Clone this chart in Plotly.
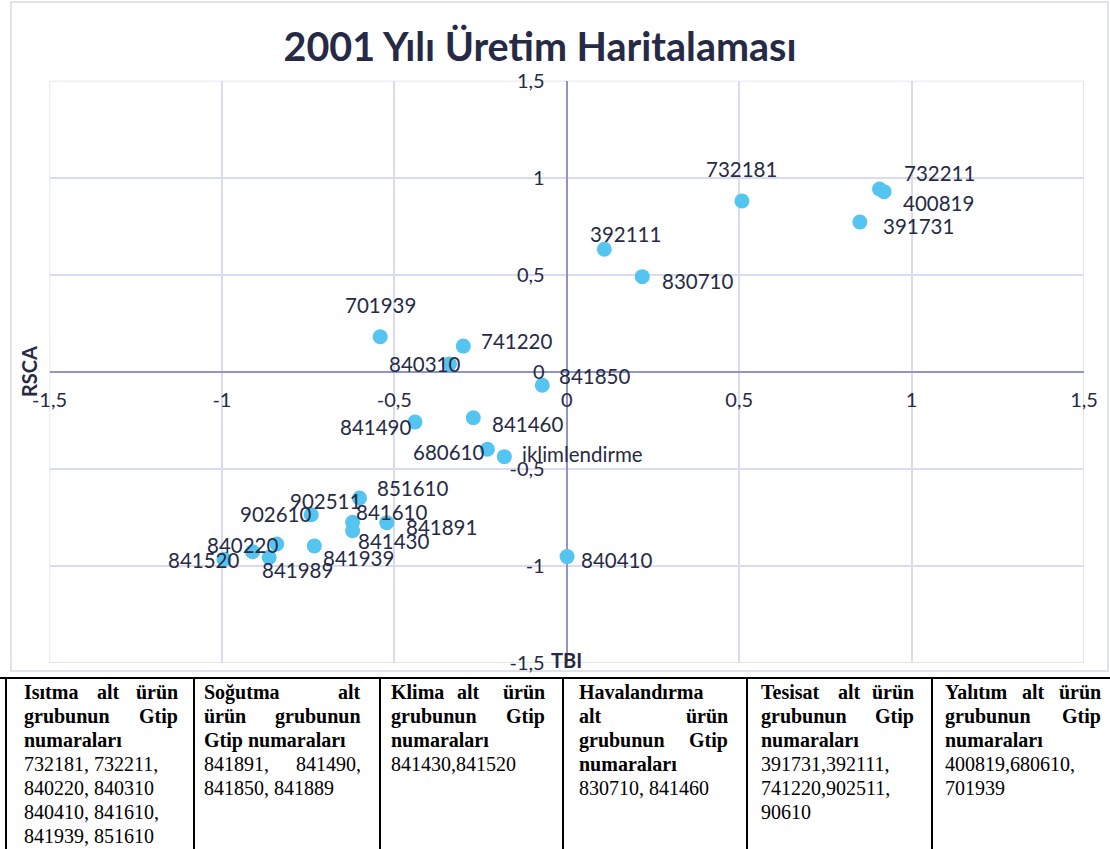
import plotly.graph_objects as go

# ---------------- data ----------------
codes = ["732181", "732211", "400819", "391731", "392111", "830710", "701939",
         "741220", "840310", "841850", "841490", "841460", "680610", "iklimlendirme",
         "851610", "902511", "902610", "841610", "841430", "841891", "841939",
         "840220", "841520", "841989", "840410"]
tbi = [0.508, 0.907, 0.920, 0.850, 0.109, 0.219, -0.541,
       -0.300, -0.340, -0.071, -0.440, -0.271, -0.230, -0.181,
       -0.601, -0.911, -0.741, -0.621, -0.621, -0.522, -0.732,
       -0.841, -0.994, -0.863, 0.001]
rsca = [0.880, 0.942, 0.928, 0.772, 0.631, 0.490, 0.180,
        0.132, 0.040, -0.070, -0.259, -0.237, -0.400, -0.438,
        -0.651, -0.928, -0.737, -0.776, -0.820, -0.778, -0.898,
        -0.888, -0.967, -0.957, -0.953]
tick_values = [-1.5, -1, -0.5, 0, 0.5, 1, 1.5]
tick_labels = [("%g" % v).replace(".", ",") for v in tick_values]

title_text = "2001 Yılı Üretim Haritalaması"
x_title = "TBI"
y_title = "RSCA"

# table contents: (text, bold, justified)
table_cells = [
    [("Isıtma alt ürün", True, True), ("grubunun Gtip", True, True), ("numaraları", True, False),
     ("732181, 732211,", False, False), ("840220, 840310", False, False),
     ("840410, 841610,", False, False), ("841939, 851610", False, False)],
    [("Soğutma alt", True, True), ("ürün grubunun", True, True), ("Gtip numaraları", True, False),
     ("841891, 841490,", False, True), ("841850, 841889", False, False)],
    [("Klima alt ürün", True, True), ("grubunun Gtip", True, True), ("numaraları", True, False),
     ("841430,841520", False, False)],
    [("Havalandırma", True, False), ("alt ürün", True, True), ("grubunun Gtip", True, True),
     ("numaraları", True, False), ("830710, 841460", False, False)],
    [("Tesisat alt ürün", True, True), ("grubunun Gtip", True, True), ("numaraları", True, False),
     ("391731,392111,", False, False), ("741220,902511,", False, False), ("90610", False, False)],
    [("Yalıtım alt ürün", True, True), ("grubunun Gtip", True, True), ("numaraları", True, False),
     ("400819,680610,", False, False), ("701939", False, False)],
]

# ---------------- layout / style ----------------
W, H = 1110, 849
def px(x): return x / W
def py(y): return 1 - y / H

TEXT = "#262a44"
GRID = "#d9dbee"
AXIS = "#8f95c9"
MARK = "#55c4f0"
FONT = "Lato"

# label placement: (xanchor, dx, dy) in pixels, dy positive = downwards
label_pos = {
    "732181": ("center", 0, -32), "732211": ("left", 22, -16), "400819": ("left", 17, 11),
    "391731": ("left", 21, 4), "392111": ("center", 21, -15), "830710": ("left", 18, 4),
    "701939": ("center", 0, -32), "741220": ("left", 16, -5), "840310": ("right", 12, 0),
    "841850": ("left", 15, -9), "841490": ("right", -2, 5), "841460": ("left", 17, 6),
    "680610": ("right", -1, 3), "iklimlendirme": ("left", 16, -3), "851610": ("left", 15, -10),
    "902511": ("right", 110, -51), "902610": ("right", 2, -1), "841610": ("left", 1, -10),
    "841430": ("left", 3, 10), "841891": ("left", 17, 4), "841939": ("left", 7, 12),
    "840220": ("right", 3, 1), "841520": ("right", 17, 1), "841989": ("center", 28, 13),
    "840410": ("left", 12, 3),
}

fig = go.Figure()
fig.add_trace(go.Scatter(
    x=tbi, y=rsca, mode="markers",
    marker=dict(size=15, color=MARK, line=dict(width=0)),
    hoverinfo="skip", showlegend=False,
))

annotations = []
for c, xv, yv in zip(codes, tbi, rsca):
    anc, dx, dy = label_pos[c]
    annotations.append(dict(
        x=xv, y=yv, xref="x", yref="y", text=c, showarrow=False,
        xanchor=anc, yanchor="middle", xshift=dx, yshift=-dy,
        font=dict(family=FONT, size=20.5, color=TEXT),
    ))

# axis titles
annotations.append(dict(x=px(29), y=py(372), xref="paper", yref="paper", text="<b>%s</b>" % y_title,
                        textangle=-90, showarrow=False, xanchor="center", yanchor="middle",
                        font=dict(family=FONT, size=20, color=TEXT)))
annotations.append(dict(x=px(566), y=py(660), xref="paper", yref="paper", text="<b>%s</b>" % x_title,
                        showarrow=False, xanchor="center", yanchor="middle",
                        font=dict(family=FONT, size=20, color=TEXT)))

# table text
col_left = [22, 202, 389, 577, 759, 943]
col_right = [180, 363, 547, 730, 916, 1103]
mid_pos = {(0, 0): 108, (2, 0): 468, (4, 0): 849.5, (5, 0): 1033}
row_y0, row_dy = 692, 24
for ci, lines in enumerate(table_cells):
    for ri, (txt, bold, just) in enumerate(lines):
        yy = py(row_y0 + ri * row_dy)
        f = dict(family="Liberation Serif", size=20, color="#000000")
        fmt = (lambda s: "<b>%s</b>" % s) if bold else (lambda s: s)
        words = txt.split()
        if just and len(words) >= 2:
            annotations.append(dict(x=px(col_left[ci]), y=yy, xref="paper", yref="paper",
                                    text=fmt(words[0]), showarrow=False, xanchor="left",
                                    yanchor="middle", font=f))
            annotations.append(dict(x=px(col_right[ci]), y=yy, xref="paper", yref="paper",
                                    text=fmt(words[-1]), showarrow=False, xanchor="right",
                                    yanchor="middle", font=f))
            if len(words) == 3:
                annotations.append(dict(x=px(mid_pos[(ci, ri)]), y=yy, xref="paper", yref="paper",
                                        text=fmt(words[1]), showarrow=False, xanchor="center",
                                        yanchor="middle", font=f))
        else:
            annotations.append(dict(x=px(col_left[ci]), y=yy, xref="paper", yref="paper",
                                    text=fmt(txt), showarrow=False, xanchor="left",
                                    yanchor="middle", font=f))

shapes = []
# chart outer border
shapes.append(dict(type="rect", xref="paper", yref="paper", x0=px(11), x1=px(1108),
                   y0=py(671), y1=py(2), line=dict(color="#d9d9e6", width=1.5), layer="below"))
# plot area frame (grid at range limits)
shapes.append(dict(type="rect", xref="x", yref="y", x0=-1.5, x1=1.5, y0=-1.5, y1=1.5,
                   line=dict(color=GRID, width=1.5), layer="below"))
# table lines
shapes.append(dict(type="line", xref="paper", yref="paper", x0=0, x1=1, y0=py(678), y1=py(678),
                   line=dict(color="#000000", width=2)))
for xb in [6, 194, 380, 563, 747, 932]:
    shapes.append(dict(type="line", xref="paper", yref="paper", x0=px(xb), x1=px(xb),
                       y0=py(678), y1=0, line=dict(color="#000000", width=2)))

axis_common = dict(
    range=[-1.5, 1.5], tickvals=tick_values, ticktext=tick_labels,
    showgrid=True, gridcolor=GRID, gridwidth=1.5,
    zeroline=True, zerolinecolor=AXIS, zerolinewidth=2,
    showline=False, ticks="", anchor="free", automargin=False,
    tickfont=dict(family=FONT, size=20, color=TEXT),
    fixedrange=True,
)

fig.update_layout(
    width=W, height=H,
    margin=dict(l=0, r=0, t=0, b=0, pad=0, autoexpand=False),
    paper_bgcolor="white", plot_bgcolor="white",
    title=dict(text="<b>%s</b>" % title_text, x=px(540), xanchor="center",
               y=py(47), yanchor="middle", xref="paper", yref="paper", automargin=False,
               font=dict(family=FONT, size=39.5, color=TEXT)),
    xaxis=dict(axis_common, domain=[px(49.5), px(1084)], position=py(371.7),
               ticklabelstandoff=14),
    yaxis=dict(axis_common, domain=[py(662.7), py(80.7)], position=px(566.7),
               ticklabelstandoff=22),
    annotations=annotations,
    shapes=shapes,
    showlegend=False,
)

fig.write_html("out.html", config={"displayModeBar": False},
               post_script="document.body.style.margin='0px';document.body.style.overflow='hidden';")
